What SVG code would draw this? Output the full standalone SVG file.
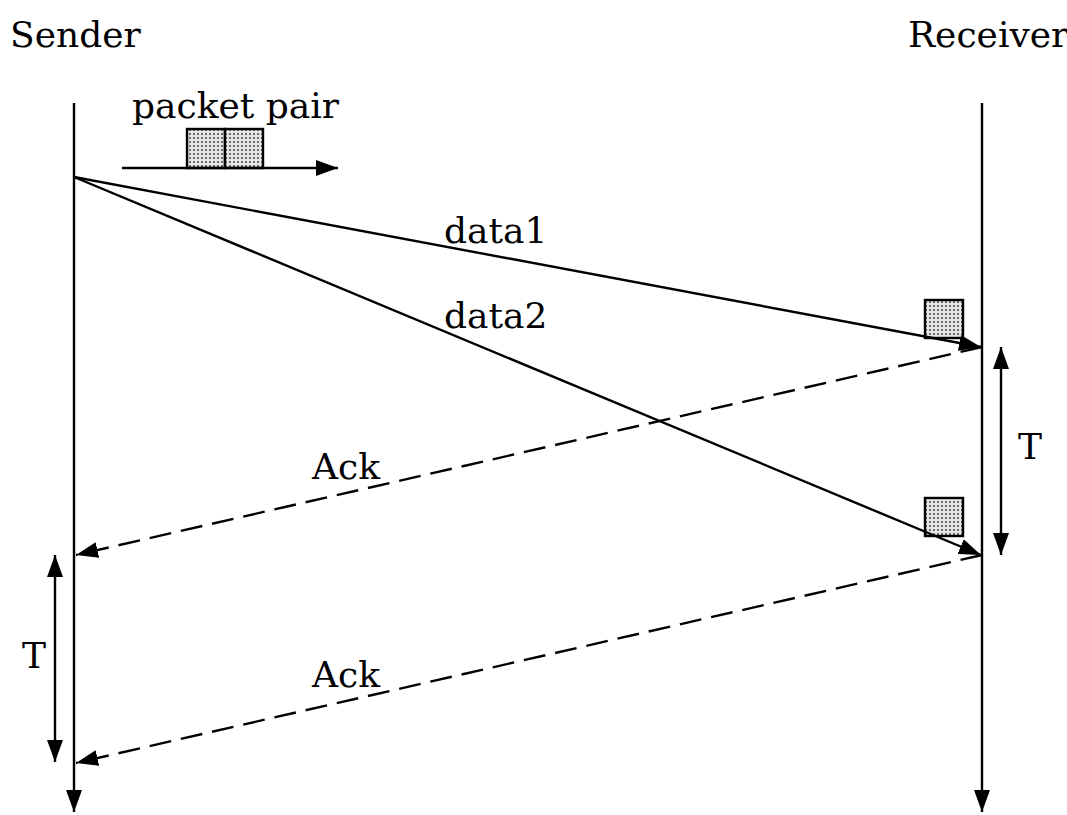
<svg xmlns="http://www.w3.org/2000/svg" width="1067" height="815" viewBox="0 0 1067 815">
  <style>
    text { font-family: "DejaVu Serif", "Liberation Serif", serif; font-size: 36px; fill: #000; }
    .line { stroke: #000; stroke-width: 2.4; fill: none; }
    .dash { stroke-dasharray: 22 10; }
    .pkt { fill: url(#dots); stroke: #000; stroke-width: 2.4; }
  </style>
  <defs>
    <pattern id="dots" width="4" height="4" patternUnits="userSpaceOnUse">
      <rect width="4" height="4" fill="#e6e6e6"/>
      <circle cx="2" cy="2" r="1" fill="#444"/>
    </pattern>
    <marker id="arrow" viewBox="0 0 22 16" refX="22" refY="8" markerWidth="22" markerHeight="16" markerUnits="userSpaceOnUse" orient="auto-start-reverse">
      <path d="M0,0 L22,8 L0,16 Z" fill="#000"/>
    </marker>
  </defs>
  <rect width="1067" height="815" fill="#fff"/>

  <!-- time lines -->
  <g id="sender">
    <text x="10" y="47">Sender</text>
    <line class="line" x1="74" y1="103" x2="74" y2="812" marker-end="url(#arrow)"/>
  </g>
  <g id="receiver">
    <text x="908" y="47">Receiver</text>
    <line class="line" x1="982" y1="103" x2="982" y2="812" marker-end="url(#arrow)"/>
  </g>

  <!-- packet pair legend -->
  <g id="packet-pair">
    <text x="132" y="118">packet pair</text>
    <rect class="pkt" x="187" y="129" width="38" height="39"/>
    <rect class="pkt" x="225" y="129" width="38" height="39"/>
    <line class="line" x1="122" y1="168" x2="338" y2="168" marker-end="url(#arrow)"/>
  </g>

  <!-- received packets -->
  <g id="packet1">
    <rect class="pkt" x="925" y="300" width="38" height="38"/>
  </g>
  <g id="packet2">
    <rect class="pkt" x="925" y="498" width="38" height="38"/>
  </g>

  <g id="connectors">
    <line class="line" x1="74" y1="177" x2="981" y2="347" marker-end="url(#arrow)"/>
    <line class="line" x1="74" y1="177" x2="981" y2="555" marker-end="url(#arrow)"/>
    <line class="line dash" x1="982" y1="347" x2="76" y2="555" marker-end="url(#arrow)"/>
    <line class="line dash" x1="982" y1="555" x2="76" y2="763" marker-end="url(#arrow)"/>
    <line class="line" x1="1001" y1="347" x2="1001" y2="555" marker-start="url(#arrow)" marker-end="url(#arrow)"/>
    <line class="line" x1="55" y1="555" x2="55" y2="762" marker-start="url(#arrow)" marker-end="url(#arrow)"/>
  </g>

  <!-- labels -->
  <g id="labels">
    <text x="444" y="243">data1</text>
    <text x="444" y="328">data2</text>
    <text x="312" y="479">Ack</text>
    <text x="312" y="687">Ack</text>
    <text x="1018" y="459">T</text>
    <text x="22" y="668">T</text>
  </g>
</svg>
